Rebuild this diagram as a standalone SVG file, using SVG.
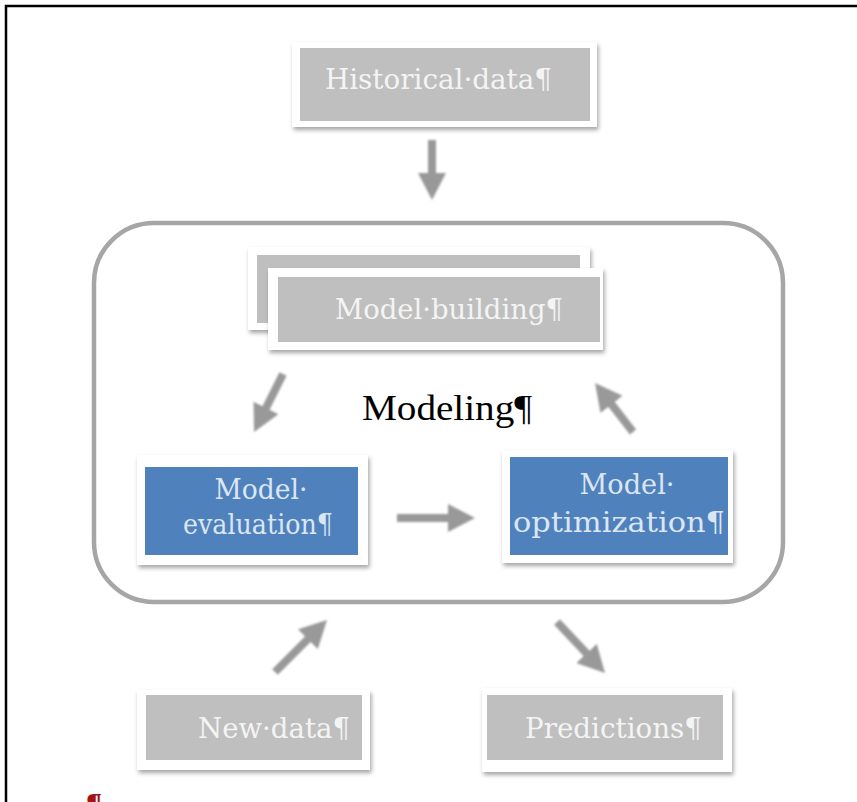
<svg xmlns="http://www.w3.org/2000/svg" width="857" height="802" viewBox="0 0 857 802">
  <style>
    .frame { stroke: #000; stroke-width: 2.5; fill: none; }
    .card { fill: #ffffff; filter: url(#shadow); }
    .grey { fill: #bfbfbf; }
    .blue { fill: #4f81bd; }
    .lbl { font-family: "DejaVu Serif", "Liberation Serif", serif; font-size: 27px; text-anchor: middle; }
    .lbl-grey { fill: #f4f4f4; }
    .lbl-blue { fill: #dce6f2; }
    .title { font-family: "Liberation Serif", "Times New Roman", serif; font-size: 36px; fill: #000; text-anchor: middle; }
    .container { fill: none; stroke: #a6a6a6; stroke-width: 4.5; }
    .arrow { stroke: #999999; stroke-width: 8; fill: none; marker-end: url(#head); }
  </style>
  <defs>
    <filter id="shadow" x="-10%" y="-10%" width="120%" height="130%">
      <feDropShadow dx="1.5" dy="3" stdDeviation="2" flood-color="#000" flood-opacity="0.35"/>
    </filter>
    <filter id="soft" x="-20%" y="-20%" width="140%" height="140%">
      <feGaussianBlur stdDeviation="1.1"/>
    </filter>
    <marker id="head" markerUnits="userSpaceOnUse" markerWidth="28" markerHeight="28" refX="15" refY="14" orient="auto">
      <path d="M0,0 L27,14 L0,28 z" fill="#999999"/>
    </marker>
  </defs>

  <rect width="857" height="802" fill="#ffffff"/>

  <!-- page frame -->
  <path class="frame" d="M6,802 V6 H857"/>

  <!-- modeling container -->
  <g id="modeling">
    <rect class="container" x="94" y="223" width="689" height="379" rx="60" ry="60"/>
    <text class="title" x="447" y="420" textLength="170" lengthAdjust="spacingAndGlyphs">Modeling¶</text>
  </g>

  <g id="historical-data">
    <rect class="card" x="292" y="42" width="305" height="85"/>
    <rect class="grey" x="300" y="48" width="290" height="73"/>
    <text class="lbl lbl-grey" x="438.5" y="89" textLength="227" lengthAdjust="spacingAndGlyphs">Historical·data¶</text>
  </g>

  <g id="model-building">
    <rect class="card" x="248" y="247" width="342" height="83"/>
    <rect class="grey" x="257" y="255" width="323" height="68"/>
    <rect class="card" x="268" y="268" width="335" height="82"/>
    <rect class="grey" x="278" y="277" width="322" height="65"/>
    <text class="lbl lbl-grey" x="449" y="319" textLength="228" lengthAdjust="spacingAndGlyphs">Model·building¶</text>
  </g>

  <g id="model-evaluation">
    <rect class="card" x="137" y="455" width="231" height="110"/>
    <rect class="blue" x="145" y="467" width="213" height="88"/>
    <text class="lbl lbl-blue" x="261" y="499" textLength="93" lengthAdjust="spacingAndGlyphs">Model·</text>
    <text class="lbl lbl-blue" x="258" y="534" textLength="150" lengthAdjust="spacingAndGlyphs">evaluation¶</text>
  </g>

  <g id="model-optimization">
    <rect class="card" x="502" y="450" width="231" height="113"/>
    <rect class="blue" x="510" y="457" width="218" height="98"/>
    <text class="lbl lbl-blue" x="627" y="494" textLength="95" lengthAdjust="spacingAndGlyphs">Model·</text>
    <text class="lbl lbl-blue" x="619" y="532" textLength="212" lengthAdjust="spacingAndGlyphs">optimization¶</text>
  </g>

  <g id="new-data">
    <rect class="card" x="137" y="690" width="233" height="80"/>
    <rect class="grey" x="146" y="695" width="216" height="65"/>
    <text class="lbl lbl-grey" x="274" y="738" textLength="152" lengthAdjust="spacingAndGlyphs">New·data¶</text>
  </g>

  <g id="predictions">
    <rect class="card" x="482" y="688" width="250" height="84"/>
    <rect class="grey" x="487" y="695" width="236" height="65"/>
    <text class="lbl lbl-grey" x="613.5" y="738" textLength="177" lengthAdjust="spacingAndGlyphs">Predictions¶</text>
  </g>

  <!-- connectors -->
  <g id="connectors" filter="url(#soft)">
    <line class="arrow" x1="432" y1="140" x2="432" y2="188"/>
    <line class="arrow" x1="283" y1="374" x2="259.4" y2="421.3"/>
    <line class="arrow" x1="633" y1="432" x2="602.4" y2="392.5"/>
    <line class="arrow" x1="397" y1="518" x2="463" y2="518"/>
    <line class="arrow" x1="275" y1="672" x2="318.5" y2="628.5"/>
    <line class="arrow" x1="557" y1="622" x2="596.8" y2="664.3"/>
  </g>

  <!-- paragraph mark cut off at the page edge -->
  <text x="86" y="813" font-family="Liberation Serif, serif" font-weight="bold" font-size="30" fill="#a31515">¶</text>
</svg>
